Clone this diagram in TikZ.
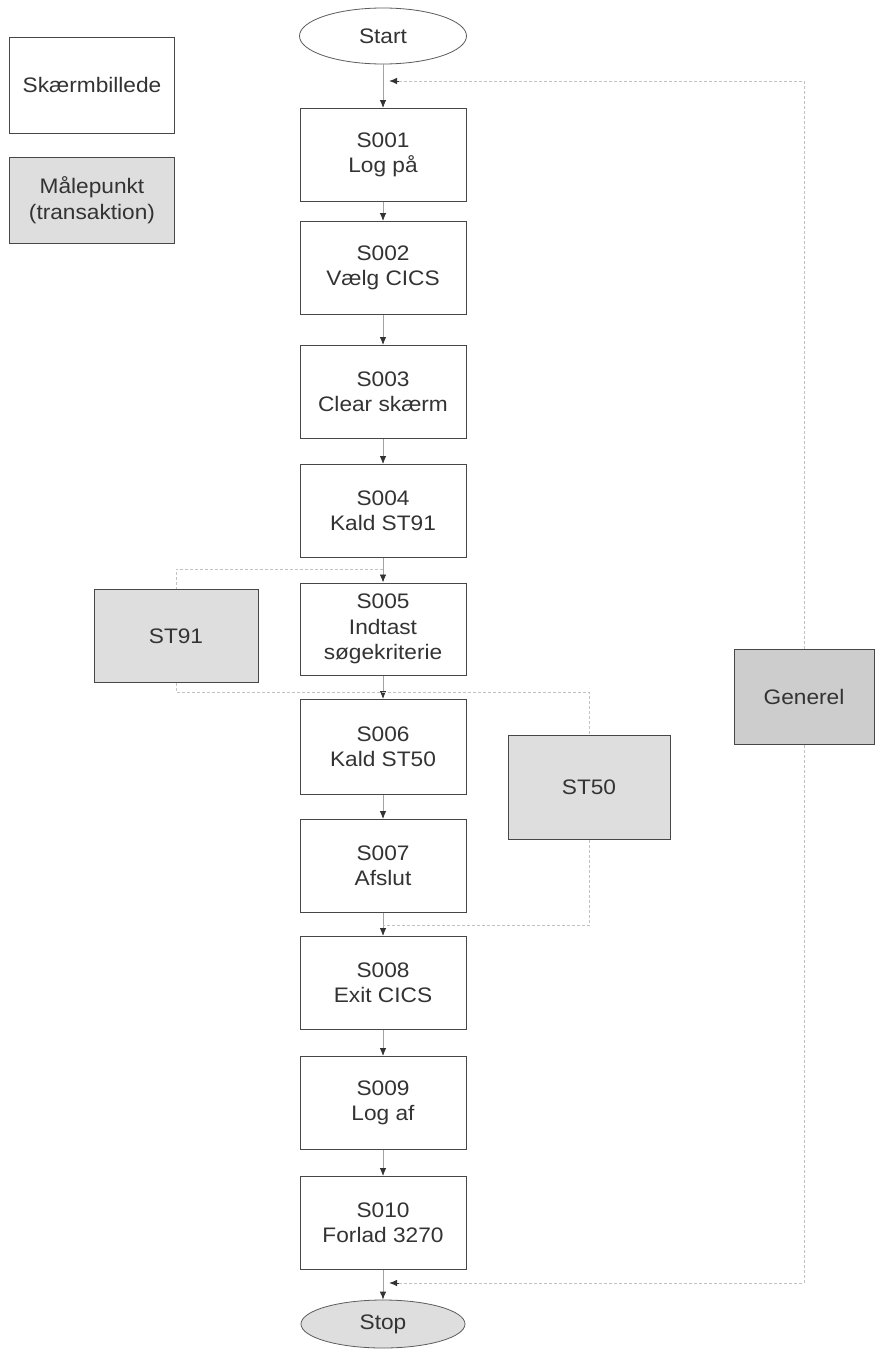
\documentclass[tikz,border=0pt]{standalone}
\usepackage{fontspec}
\setmainfont{Liberation Sans}[FakeStretch=1.08]
\usetikzlibrary{shapes.geometric,arrows.meta}
\definecolor{ink}{HTML}{333333}
\definecolor{fillA}{HTML}{DEDEDE}
\definecolor{fillB}{HTML}{CDCDCD}
\tikzset{
  txt/.style={text=ink,font=\fontsize{21}{25.5}\selectfont,align=center},
  screen/.style={txt,draw=ink!90,line width=1pt,minimum width=166pt,minimum height=93pt},
  measbox/.style={txt,draw=ink!90,line width=1pt,fill=fillA},
  term/.style={txt,ellipse,draw=ink!80,line width=0.8pt,minimum width=167pt,minimum height=56pt},
  tip/.style={-{Latex[length=8pt,width=6.5pt,color=ink]}},
  flow/.style={draw=ink!45,line width=0.8pt,tip},
  meas/.style={draw=ink!30,line width=1pt,densely dashed},
}
\begin{document}
\begin{tikzpicture}[x=1pt,y=-1pt]
\useasboundingbox[fill=white] (0,0) rectangle (881,1349);
% legend
\node[screen,minimum width=165pt,minimum height=96pt] (lgA) at (92,85) {Skærmbillede};
\node[measbox,minimum width=165pt,minimum height=86pt] (lgB) at (92,200) {Målepunkt\\(transaktion)};
% terminals
\node[term] (start) at (383,36) {Start};
\node[term,fill=fillA,minimum width=164pt,minimum height=48pt] (stop) at (383,1324) {Stop};
% screens
\node[screen] (s1) at (383,155) {S001\\Log på};
\node[screen] (s2) at (383,268) {S002\\Vælg CICS};
\node[screen] (s3) at (383,392) {S003\\Clear skærm};
\node[screen] (s4) at (383,511) {S004\\Kald ST91};
\node[screen,minimum height=92pt] (s5) at (383,629) {S005\\Indtast\\søgekriterie};
\node[screen,minimum height=95pt] (s6) at (383,747) {S006\\Kald ST50};
\node[screen] (s7) at (383,866) {S007\\Afslut};
\node[screen] (s8) at (383,983) {S008\\Exit CICS};
\node[screen] (s9) at (383,1103) {S009\\Log af};
\node[screen] (s10) at (383,1223) {S010\\Forlad 3270};
% measurement points
\node[measbox,minimum width=164pt,minimum height=93pt] (st91) at (176,636) {ST91};
\node[measbox,minimum width=162pt,minimum height=104pt] (st50) at (589,787) {ST50};
\node[measbox,fill=fillB,minimum width=140pt,minimum height=95pt] (gen) at (804,697) {Generel};
% junction coordinates
\coordinate (j1) at (389,81);
\coordinate (j2) at (389,1283);
\coordinate (a1) at (383,569);
\coordinate (a2) at (383,692);
\coordinate (a3) at (383,925);
% main flow
\draw[flow] (start) -- (s1);
\draw[flow] (s1) -- (s2);
\draw[flow] (s2) -- (s3);
\draw[flow] (s3) -- (s4);
\draw[flow] (s4) -- (s5);
\draw[flow] (s5) -- (s6);
\draw[flow] (s6) -- (s7);
\draw[flow] (s7) -- (s8);
\draw[flow] (s8) -- (s9);
\draw[flow] (s9) -- (s10);
\draw[flow] (s10) -- (stop);
% measurement connectors
\draw[meas] (a1) -| (st91.north);
\draw[meas] (st91.south) |- (a2);
\draw[meas] (a2) -| (st50.north);
\draw[meas] (st50.south) |- (a3);
\draw[meas] (gen.north) -- (gen.north |- j1) -- ([xshift=10pt]j1);
\draw[draw=ink,line width=1pt,tip] ([xshift=10pt]j1) -- (j1);
\draw[meas] (gen.south) -- (gen.south |- j2) -- ([xshift=10pt]j2);
\draw[draw=ink,line width=1pt,tip] ([xshift=10pt]j2) -- (j2);
\end{tikzpicture}
\end{document}
